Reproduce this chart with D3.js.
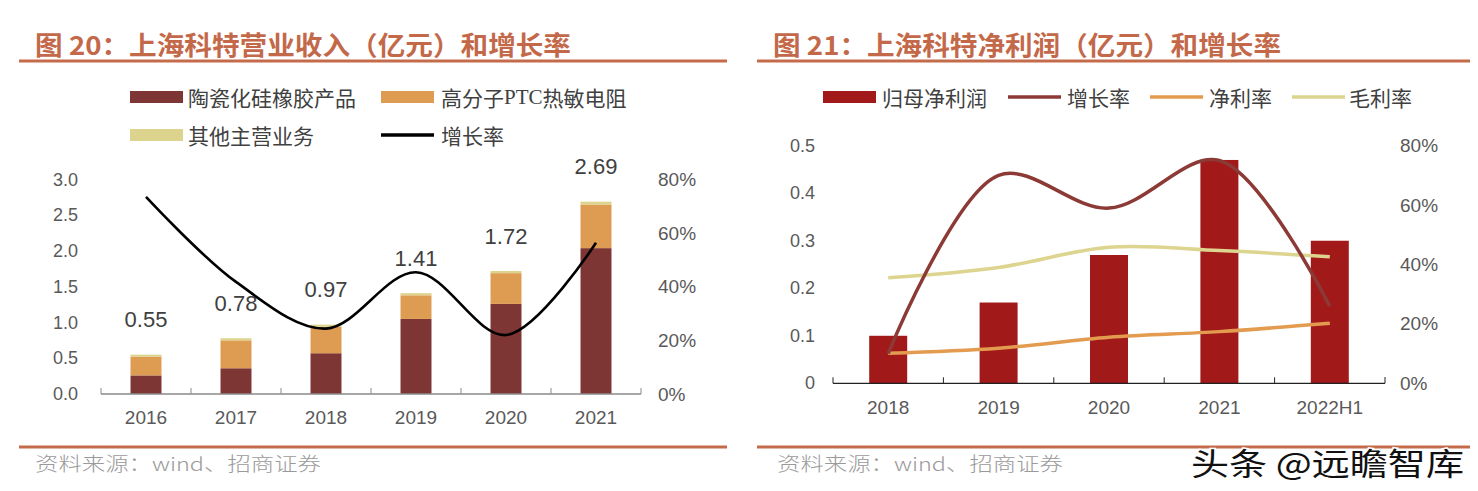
<!DOCTYPE html>
<html><head><meta charset="utf-8">
<script src="https://cdn.jsdelivr.net/npm/d3@7"></script>
<style>
html,body{margin:0;padding:0;background:#fff;}
svg{display:block;}
</style></head>
<body>
<svg id="c" width="1478" height="491"></svg>
<script>
// ---------- Data: Figure 20 ----------
const yearsL = ['2016','2017','2018','2019','2020','2021'];
const ceramic = [0.26, 0.36, 0.57, 1.05, 1.26, 2.04];
const ptc = [0.26, 0.39, 0.37, 0.33, 0.43, 0.61];
const otherBiz = [0.03, 0.03, 0.03, 0.03, 0.03, 0.04];
const totalLabels = ['0.55','0.78','0.97','1.41','1.72','2.69'];
const totals = [0.55, 0.78, 0.97, 1.41, 1.72, 2.69];
const growthL = [0.735, 0.418, 0.244, 0.454, 0.22, 0.564];
const yTicksL = [0, 0.5, 1.0, 1.5, 2.0, 2.5, 3.0];
const pctTicks = [0, 0.2, 0.4, 0.6, 0.8];

// ---------- Data: Figure 21 ----------
const yearsR = ['2018','2019','2020','2021','2022H1'];
const netProfit = [0.10, 0.17, 0.27, 0.47, 0.30];
const growthR = [0.10, 0.70, 0.59, 0.75, 0.26];
const netMargin = [0.101, 0.118, 0.155, 0.174, 0.202];
const grossMargin = [0.355, 0.39, 0.458, 0.447, 0.426];
const yTicksR = [0, 0.1, 0.2, 0.3, 0.4, 0.5];

const svg = d3.select('#c');
const CJK = '"Noto Sans CJK SC", "Noto Sans", sans-serif';
const NUM = '"Liberation Sans", Arial, sans-serif';
const accent = '#c46b4b';

// ---------- Headers / footers ----------
function header(x0, x1, tx, txtLen, title) {
  svg.append('text').attr('x', tx).attr('y', 43).attr('dominant-baseline','central')
    .attr('font-family', CJK).attr('font-weight', 700).attr('font-size', 26)
    .attr('fill', '#c3694a').attr('textLength', txtLen).attr('lengthAdjust','spacingAndGlyphs')
    .text(title);
  svg.append('line').attr('x1', x0).attr('x2', x1).attr('y1', 61).attr('y2', 61)
    .attr('stroke', accent).attr('stroke-width', 3);
  svg.append('line').attr('x1', x0).attr('x2', x1).attr('y1', 447).attr('y2', 447)
    .attr('stroke', accent).attr('stroke-width', 3);
}
header(19, 727, 35, 536, '图 20：上海科特营业收入（亿元）和增长率');
header(757, 1470, 773, 508, '图 21：上海科特净利润（亿元）和增长率');
function source(x) {
  svg.append('text').attr('x', x).attr('y', 462).attr('dominant-baseline','central')
    .attr('font-family', CJK).attr('font-weight', 300).attr('font-size', 19)
    .attr('fill', '#9a9a9a').attr('textLength', 286).attr('lengthAdjust','spacingAndGlyphs')
    .text('资料来源：wind、招商证券');
}
source(35); source(777);

// ---------- Legend helpers ----------
function legRect(x, y, color, label) {
  svg.append('rect').attr('x', x).attr('y', y - 6).attr('width', 53).attr('height', 12).attr('fill', color);
}
function legLine(x, y, color) {
  svg.append('line').attr('x1', x).attr('x2', x + 53).attr('y1', y).attr('y2', y)
    .attr('stroke', color).attr('stroke-width', 3.5);
}
function legText(x, y, t) {
  return svg.append('text').attr('x', x).attr('y', y).attr('dominant-baseline','central')
    .attr('font-family', CJK).attr('font-size', 21).attr('fill', '#404040').text(t);
}

// ================= Figure 20 =================
const colCer = '#7e3634', colPtc = '#de9b52', colOth = '#dcd38c';
legRect(130, 97, colCer); legText(188, 97, '陶瓷化硅橡胶产品');
legRect(381, 97, colPtc);
{
  const t = svg.append('text').attr('x', 441).attr('y', 97).attr('dominant-baseline','central')
    .attr('font-family', CJK).attr('font-size', 21).attr('fill', '#404040');
  t.append('tspan').text('高分子');
  t.append('tspan').attr('font-family','"Liberation Serif", serif').text('PTC');
  t.append('tspan').text('热敏电阻');
}
legRect(130, 135, colOth); legText(188, 135, '其他主营业务');
legLine(381, 135, '#000'); legText(441, 135, '增长率');

const xL = d3.scaleBand().domain(yearsL).range([101, 641]).padding(0);
const bwL = xL.bandwidth() * 0.344;
const yL = d3.scaleLinear().domain([0, 3]).range([394, 179.5]);
const yL2 = d3.scaleLinear().domain([0, 0.8]).range([394, 179.5]);

const stackL = d3.stack().keys(['c','p','o'])(yearsL.map((y,i)=>({year:y, c:ceramic[i], p:ptc[i], o:otherBiz[i]})));
const colorsL = [colCer, colPtc, colOth];
stackL.forEach((layer, k) => {
  svg.append('g').selectAll('rect').data(layer).join('rect')
    .attr('x', d => xL(d.data.year) + (xL.bandwidth() - bwL) / 2)
    .attr('width', bwL)
    .attr('y', d => yL(d[1]))
    .attr('height', d => yL(d[0]) - yL(d[1]))
    .attr('fill', colorsL[k]);
});

// axis
const axL = svg.append('g').attr('transform', 'translate(0,394)')
  .call(d3.axisBottom(xL).tickSize(-6).tickSizeOuter(-6).tickFormat(''));
axL.select('.domain').remove();
axL.selectAll('.tick line').attr('transform', d => `translate(${-xL.bandwidth()/2},0)`).attr('stroke','#8a8a8a');
svg.append('line').attr('x1', 101).attr('x2', 641).attr('y1', 394).attr('y2', 394).attr('stroke', '#8a8a8a').attr('stroke-width', 1.5);
svg.append('line').attr('x1', 641).attr('x2', 641).attr('y1', 388).attr('y2', 394).attr('stroke', '#8a8a8a');
svg.append('g').selectAll('text').data(yearsL).join('text')
  .attr('x', d => xL(d) + xL.bandwidth()/2).attr('y', 417).attr('text-anchor','middle').attr('dominant-baseline','central')
  .attr('font-family', NUM).attr('font-size', 19).attr('fill', '#595959').text(d => d);
svg.append('g').selectAll('text').data(yTicksL).join('text')
  .attr('x', 78).attr('y', d => yL(d)).attr('text-anchor','end').attr('dominant-baseline','central')
  .attr('font-family', NUM).attr('font-size', 18).attr('fill', '#595959').text(d => d3.format('.1f')(d));
svg.append('g').selectAll('text').data(pctTicks).join('text')
  .attr('x', 658).attr('y', d => yL2(d)).attr('dominant-baseline','central')
  .attr('font-family', NUM).attr('font-size', 19).attr('fill', '#595959').text(d => d3.format('.0%')(d));
// value labels
svg.append('g').selectAll('text').data(yearsL).join('text')
  .attr('x', d => xL(d) + xL.bandwidth()/2).attr('y', (d,i) => yL(totals[i]) - 35)
  .attr('text-anchor','middle').attr('dominant-baseline','central')
  .attr('font-family', NUM).attr('font-size', 22).attr('fill', '#404040').text((d,i) => totalLabels[i]);
// growth line
const lineL = d3.line().x((d,i) => xL(yearsL[i]) + xL.bandwidth()/2).y(d => yL2(d)).curve(d3.curveCatmullRom.alpha(0.5));
svg.append('path').attr('d', lineL(growthL)).attr('fill','none').attr('stroke','#000').attr('stroke-width', 2.6);

// ================= Figure 21 =================
const colBar = '#a11919', colGr = '#8b3a36', colNet = '#e39b4f', colGross = '#ddd48f';
legRect(823, 97, colBar); legText(882, 97, '归母净利润');
legLine(1008, 97, colGr); legText(1067, 97, '增长率');
legLine(1150, 97, colNet); legText(1209, 97, '净利率');
legLine(1292, 97, colGross); legText(1349, 97, '毛利率');

const xR = d3.scaleBand().domain(yearsR).range([833, 1385]).padding(0);
const bwR = xR.bandwidth() * 0.344;
const yR = d3.scaleLinear().domain([0, 0.5]).range([383.3, 145.7]);
const yR2 = d3.scaleLinear().domain([0, 0.8]).range([383.3, 145.7]);

svg.append('g').selectAll('rect').data(yearsR).join('rect')
  .attr('x', d => xR(d) + (xR.bandwidth() - bwR)/2).attr('width', bwR)
  .attr('y', (d,i) => yR(netProfit[i])).attr('height', (d,i) => yR(0) - yR(netProfit[i]))
  .attr('fill', colBar);

const axR = svg.append('g').attr('transform', 'translate(0,383.3)')
  .call(d3.axisBottom(xR).tickSize(-6).tickSizeOuter(-6).tickFormat(''));
axR.select('.domain').remove();
axR.selectAll('.tick line').attr('transform', d => `translate(${-xR.bandwidth()/2},0)`).attr('stroke','#222');
svg.append('line').attr('x1', 833).attr('x2', 1385).attr('y1', 383.3).attr('y2', 383.3).attr('stroke', '#222').attr('stroke-width', 1.3);
svg.append('line').attr('x1', 1385).attr('x2', 1385).attr('y1', 377).attr('y2', 383.3).attr('stroke', '#222');
svg.append('g').selectAll('text').data(yearsR).join('text')
  .attr('x', d => xR(d) + xR.bandwidth()/2).attr('y', 407).attr('text-anchor','middle').attr('dominant-baseline','central')
  .attr('font-family', NUM).attr('font-size', 19).attr('fill', '#595959').text(d => d);
svg.append('g').selectAll('text').data(yTicksR).join('text')
  .attr('x', 815).attr('y', d => yR(d)).attr('text-anchor','end').attr('dominant-baseline','central')
  .attr('font-family', NUM).attr('font-size', 18).attr('fill', '#595959').text(d => d === 0 ? '0' : d3.format('.1f')(d));
svg.append('g').selectAll('text').data(pctTicks).join('text')
  .attr('x', 1400).attr('y', d => yR2(d)).attr('dominant-baseline','central')
  .attr('font-family', NUM).attr('font-size', 19).attr('fill', '#595959').text(d => d3.format('.0%')(d));

const lineR = d3.line().x((d,i) => xR(yearsR[i]) + xR.bandwidth()/2).y(d => yR2(d)).curve(d3.curveCatmullRom.alpha(0.5));
svg.append('path').attr('d', lineR(grossMargin)).attr('fill','none').attr('stroke', colGross).attr('stroke-width', 3.5);
svg.append('path').attr('d', lineR(netMargin)).attr('fill','none').attr('stroke', colNet).attr('stroke-width', 3.5);
svg.append('path').attr('d', lineR(growthR)).attr('fill','none').attr('stroke', colGr).attr('stroke-width', 3.5);

// watermark
svg.append('text').attr('x', 1191).attr('y', 461).attr('dominant-baseline','central')
  .attr('font-family', CJK).attr('font-size', 31).attr('fill', '#111')
  .attr('stroke', '#fff').attr('stroke-width', 3).attr('paint-order', 'stroke')
  .attr('textLength', 273).attr('lengthAdjust', 'spacingAndGlyphs')
  .text('头条 @远瞻智库');
</script>
</body></html>
